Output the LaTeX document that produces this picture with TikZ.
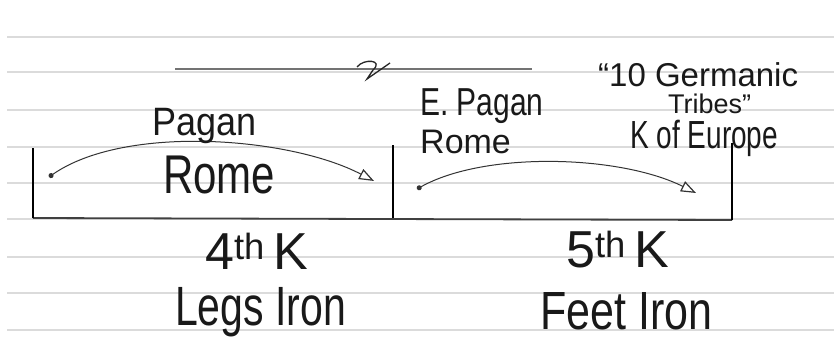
\documentclass[tikz,border=0pt]{standalone}
\usepackage{fontspec}
\setmainfont{Liberation Sans}
\usetikzlibrary{arrows.meta}
\begin{document}
\begin{tikzpicture}[x=1pt,y=-1pt,
  rule/.style={draw=black!14,line width=1.6pt},
  bar/.style={line width=2.8pt,black},
  base/.style={line width=1.8pt,black!75},
  topline/.style={line width=1.6pt,black!55},
  arc/.style={line width=1pt,black!80,{Circle[length=5pt]}-{Triangle[open,length=15pt,width=11pt,line width=1.2pt]}},
  hw/.style={anchor=base west,inner sep=0pt,text=black!90}]
\useasboundingbox (0,0) rectangle (834,356);
\fill[white] (0,0) rectangle (834,356);
\foreach \y in {37,72,110,147,183,219,257,293,330} \draw[rule] (7,\y) -- (834,\y);
% top line with mark
\coordinate (tl1) at (175,69);
\coordinate (tl2) at (532,69);
\draw[topline] (tl1) -- (tl2);
\draw[line width=1.3pt,black!85] (357,67) .. controls (364,58) and (384,60) .. (373,70) -- (367,79) -- (390,63);
% timeline
\coordinate (b1t) at (33,148); \coordinate (b1b) at (33,218);
\coordinate (b2t) at (393,145); \coordinate (b2b) at (393,218);
\coordinate (b3t) at (732,143); \coordinate (b3b) at (732,220);
\draw[base] (b1b) -- (b3b);
\draw[bar] (b1t) -- (b1b);
\draw[bar] (b2t) -- (b2b);
\draw[bar] (b3t) -- (b3b);
% arcs
\coordinate (a1s) at (49,177); \coordinate (a1e) at (374,181);
\coordinate (a2s) at (417,189); \coordinate (a2e) at (696,193);
\draw[arc] (a1s) .. controls (125,124) and (290,137) .. (a1e);
\draw[arc] (a2s) .. controls (485,151) and (620,155) .. (a2e);
% texts
\node[hw,font=\fontsize{36}{40}\selectfont] (pagan) at (152,135) {\scalebox{1}[1.1]{Pagan}};
\node[hw,font=\fontsize{42}{46}\selectfont] (rome1) at (163,193) {\scalebox{1}[1.3]{Rome}};
\node[hw,font=\fontsize{30}{34}\selectfont] (epagan) at (420,115) {\scalebox{1}[1.3]{E. Pagan}};
\node[hw,font=\fontsize{34}{38}\selectfont] (rome2) at (420,153) {Rome};
\node[hw,font=\fontsize{33}{36}\selectfont] (germ) at (598,86) {“10 Germanic};
\node[hw,font=\fontsize{27}{30}\selectfont] (tribes) at (668,113) {Tribes”};
\node[hw,font=\fontsize{28}{32}\selectfont] (keur) at (630,148) {\scalebox{1}[1.4]{K of Europe}};
\node[hw,font=\fontsize{52}{56}\selectfont] (k4) at (205,269) {4\textsuperscript{th}\,K};
\node[hw,font=\fontsize{41}{45}\selectfont] (legs) at (175,325) {\scalebox{1}[1.35]{Legs Iron}};
\node[hw,font=\fontsize{52}{56}\selectfont] (k5) at (566,267) {5\textsuperscript{th}\,K};
\node[hw,font=\fontsize{43}{47}\selectfont] (feet) at (540,329) {\scalebox{1}[1.25]{Feet Iron}};
\end{tikzpicture}
\end{document}
